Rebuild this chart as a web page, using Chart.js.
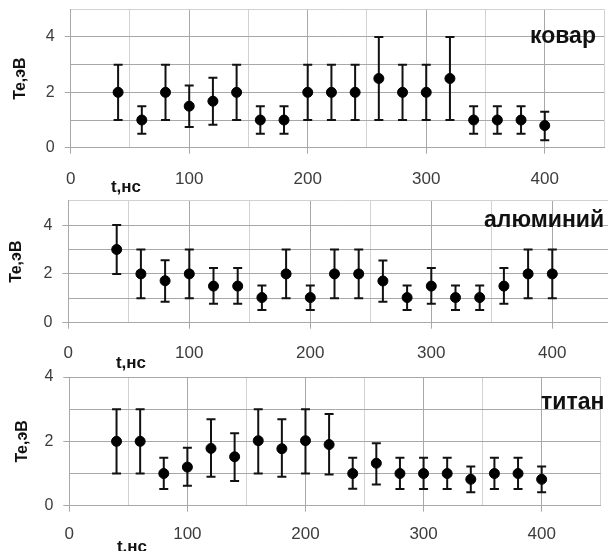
<!DOCTYPE html>
<html lang="ru">
<head>
<meta charset="utf-8">
<title>Te(t)</title>
<script src="https://cdn.jsdelivr.net/npm/chart.js@4.4.1/dist/chart.umd.min.js"></script>
<style>
  html, body { margin: 0; padding: 0; background: #fff; }
  body { width: 608px; height: 551px; position: relative; overflow: hidden; }
  canvas { position: absolute; left: 0; }
</style>
</head>
<body>
<canvas id="kovarChart" width="620" height="200" style="top:0px"></canvas>
<canvas id="aluChart" width="620" height="185" style="top:190px"></canvas>
<canvas id="titanChart" width="620" height="186" style="top:365px"></canvas>
<script>
// time points, ns
const times = [40, 60, 80, 100, 120, 140, 160, 180, 200, 220, 240, 260, 280, 300, 320, 340, 360, 380, 400];

// ковар
const kovarTe   = [2, 1, 2, 1.5, 1.68, 2, 1, 1, 2, 2, 2, 2.5, 2, 2, 2.5, 1, 1, 1, 0.8];
const kovarLow  = [1, 0.5, 1, 0.75, 0.83, 1, 0.5, 0.5, 1, 1, 1, 1, 1, 1, 1, 0.5, 0.5, 0.5, 0.27];
const kovarHigh = [3, 1.5, 3, 2.25, 2.53, 3, 1.5, 1.5, 3, 3, 3, 4, 3, 3, 4, 1.5, 1.5, 1.5, 1.3];

// алюминий
const aluTe   = [3, 2, 1.72, 2, 1.5, 1.5, 1.03, 2, 1.03, 2, 2, 1.71, 1.03, 1.5, 1.03, 1.03, 1.5, 2, 2];
const aluLow  = [2, 1, 0.86, 1, 0.78, 0.78, 0.52, 1, 0.52, 1, 1, 0.86, 0.52, 0.78, 0.52, 0.52, 0.78, 1, 1];
const aluHigh = [4, 3, 2.56, 3, 2.24, 2.24, 1.52, 3, 1.52, 3, 3, 2.55, 1.52, 2.24, 1.52, 1.52, 2.24, 3, 3];

// титан
const titanTe   = [2, 2, 1, 1.2, 1.78, 1.52, 2.02, 1.77, 2.02, 1.9, 1, 1.32, 1, 1, 1, 0.82, 1, 1, 0.82];
const titanLow  = [1, 1, 0.52, 0.62, 0.9, 0.77, 1, 0.9, 1, 0.97, 0.53, 0.66, 0.52, 0.52, 0.52, 0.42, 0.52, 0.52, 0.42];
const titanHigh = [3, 3, 1.49, 1.8, 2.69, 2.25, 3, 2.69, 3, 2.85, 1.49, 1.94, 1.49, 1.49, 1.49, 1.22, 1.49, 1.49, 1.22];

const FONT = '"Liberation Sans", Arial, sans-serif';
const gridMajor = '#a8a8a8';
const gridMinor = '#d2d2d2';
const labelColor = '#3c3c3c';

Chart.defaults.font.family = FONT;

function errorBars(low, high) {
    return {
        id: 'errorBars',
        beforeDatasetsDraw(chart) {
            const { ctx, scales: { x, y } } = chart;
            ctx.save();
            ctx.strokeStyle = '#111';
            ctx.lineWidth = 2;
            times.forEach((t, i) => {
                const px = x.getPixelForValue(t);
                const top = y.getPixelForValue(high[i]);
                const bot = y.getPixelForValue(low[i]);
                ctx.beginPath();
                ctx.moveTo(px, top);
                ctx.lineTo(px, bot);
                ctx.moveTo(px - 4.5, top);
                ctx.lineTo(px + 4.5, top);
                ctx.moveTo(px - 4.5, bot);
                ctx.lineTo(px + 4.5, bot);
                ctx.stroke();
            });
            ctx.restore();
        }
    };
}

function panelLabels(name, nameX, nameY, unitX, unitY) {
    return {
        id: 'panelLabels',
        afterDraw(chart) {
            const ctx = chart.ctx;
            ctx.save();
            ctx.fillStyle = '#111';
            ctx.textBaseline = 'middle';
            ctx.textAlign = 'left';
            ctx.font = 'bold 23px ' + FONT;
            ctx.fillText(name, nameX, nameY);
            ctx.textAlign = 'center';
            ctx.font = 'bold 17px ' + FONT;
            ctx.fillText('t,нс', unitX, unitY);
            ctx.restore();
        }
    };
}

// drop the label padding so the plot area lands exactly where the layout padding says
function noPad(s) {
    s.paddingTop = 0;
    s.paddingBottom = 0;
    s.paddingLeft = 0;
    s.paddingRight = 0;
}

function makePanel(id, te, low, high, p) {
    const points = times.map((t, i) => ({ x: t, y: te[i] }));
    return new Chart(document.getElementById(id), {
        type: 'scatter',
        data: {
            datasets: [{
                data: points,
                backgroundColor: '#000',
                borderColor: '#000',
                pointRadius: 5,
                pointHoverRadius: 5
            }]
        },
        options: {
            responsive: false,
            animation: false,
            events: [],
            layout: { padding: { left: 0, top: p.top, right: p.right, bottom: 0 } },
            plugins: {
                legend: { display: false },
                tooltip: { enabled: false }
            },
            scales: {
                x: {
                    type: 'linear',
                    min: 0,
                    max: 450,
                    afterFit: s => { s.height = p.xHeight; noPad(s); },
                    ticks: {
                        stepSize: 50,
                        autoSkip: false,
                        maxRotation: 0,
                        padding: p.xPad,
                        color: labelColor,
                        font: { size: 17 },
                        callback: v => (v % 100 === 0 ? v : '')
                    },
                    grid: {
                        color: c => (c.tick && c.tick.value % 100 === 0 ? gridMajor : gridMinor),
                        tickLength: 6,
                        tickColor: c => (c.tick && c.tick.value % 100 === 0 ? gridMajor : 'transparent')
                    },
                    border: { color: gridMajor }
                },
                y: {
                    min: 0,
                    max: p.yMax,
                    afterFit: s => { s.width = p.left; noPad(s); },
                    ticks: {
                        stepSize: 1,
                        autoSkip: false,
                        padding: 10,
                        color: labelColor,
                        font: { size: 16 },
                        callback: v => (v % 2 === 0 ? v : '')
                    },
                    grid: {
                        color: c => (c.tick && c.tick.value === 5 ? gridMinor : gridMajor),
                        tickLength: 6,
                        tickColor: c => (c.tick && c.tick.value % 2 === 0 ? gridMajor : 'transparent')
                    },
                    border: { color: gridMajor },
                    title: {
                        display: true,
                        text: 'Te,эВ',
                        color: '#111',
                        font: { size: 16, weight: 'bold' },
                        padding: { top: p.titlePad, bottom: 0 }
                    }
                }
            }
        },
        plugins: [errorBars(low, high), panelLabels(p.name, p.nameX, p.nameY, p.unitX, p.unitY)]
    });
}

makePanel('kovarChart', kovarTe, kovarLow, kovarHigh, {
    name: 'ковар', nameX: 530, nameY: 37, unitX: 126, unitY: 187,
    left: 70.7, right: 16, top: 9.3, xHeight: 52.3, xPad: 15, yMax: 5, titlePad: 11
});

makePanel('aluChart', aluTe, aluLow, aluHigh, {
    name: 'алюминий', nameX: 484, nameY: 31, unitX: 131, unitY: 173,
    left: 68.3, right: 7.2, top: 10.7, xHeight: 52.3, xPad: 14, yMax: 5, titlePad: 7
});

makePanel('titanChart', titanTe, titanLow, titanHigh, {
    name: 'титан', nameX: 541, nameY: 38, unitX: 132, unitY: 182,
    left: 69.3, right: 19.3, top: 12, xHeight: 45.3, xPad: 12, yMax: 4, titlePad: 13
});
</script>
</body>
</html>
